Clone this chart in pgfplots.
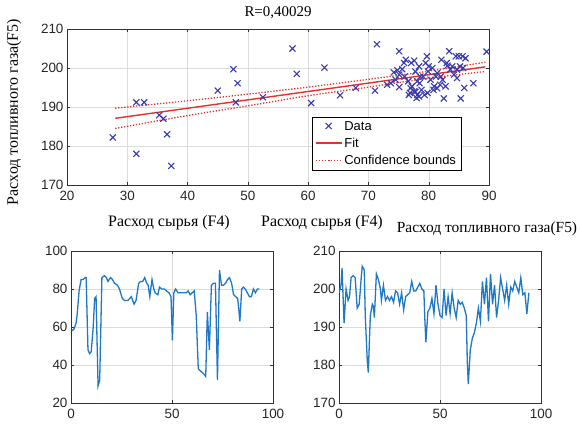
\documentclass[border=0pt]{standalone}
\usepackage{pgfplots}
\pgfplotsset{compat=1.18}
\usepackage{pgfplotstable}
\usepackage{fontspec}
\setmainfont{Liberation Serif}
\newfontfamily\sansf{Liberation Sans}
\definecolor{mblue}{HTML}{3A3AB0}
\definecolor{mred}{HTML}{E5302C}
\definecolor{lblue}{HTML}{1F78C4}

% scatter: F4 vs F5
\pgfplotstableread{
x y
27.6 182.2
31.5 178.0
31.5 191.2
32.8 191.2
35.3 187.9
36.0 187.0
36.6 183.0
37.3 174.9
45.0 194.2
47.6 199.7
48.3 196.1
48.0 191.2
52.5 192.5
57.4 205.0
58.1 198.5
60.5 191.0
62.7 200.1
65.3 193.0
67.9 194.9
71.4 206.1
71.1 194.2
73.1 195.7
73.7 196.1
74.2 198.9
74.5 197.0
74.8 199.4
75.1 204.3
75.1 195.1
75.6 199.7
75.9 201.3
76.2 202.1
76.6 196.6
76.7 193.1
77.0 194.8
77.1 201.3
77.6 194.0
77.8 199.1
78.0 192.3
78.1 193.1
78.4 200.4
78.5 196.1
78.8 194.4
79.1 197.8
79.3 193.1
79.5 201.3
79.7 203.0
79.9 199.1
80.3 197.0
80.6 200.0
80.8 194.4
81.2 197.8
81.4 198.7
81.9 195.7
82.1 202.1
82.3 197.0
82.5 192.2
82.8 195.3
83.0 201.3
83.4 204.3
83.6 199.6
84.2 198.3
84.5 203.0
84.7 197.4
85.0 203.0
85.2 200.4
85.3 192.2
85.6 203.0
85.7 200.0
85.9 194.9
86.1 202.5
87.4 196.1
89.6 204.2
83.9 200.4
78.1 196.6
76.0 197.8
75.1 198.3
80.9 195.3
77.2 195.3
78.6 197.8
77.6 201.9
80.0 200.4
81.4 194.8
79.8 193.6
76.9 193.6
78.4 192.7
83.1 200.6
82.0 197.8
84.7 199.6
77.8 193.9
}\scatterdata

% F4 over time
\pgfplotstableread{
t v
0.5 58
1.5 59
2.5 62
3 66
4 79
5 85
6 85
7 86
7.5 86
8.4 48
9.2 46
10 47
11 60
11.7 75
12.4 76
13.4 29
14.2 32
15.3 86
16.5 87
17.5 86
18.3 84
19.6 86
20.5 85
21.6 83
23 82
24 80
25.4 75
26.5 74
28.2 74
29.9 76
31.2 72
32.2 74
33.5 83
34.5 84
35.5 84
36.5 86
37.5 83
38.2 82
39 76
40.1 85
41 80
41.7 78
43 77
43.8 81
45 80
46.3 80
47.3 79
48.5 78
49.5 76
50.2 53
50.9 78
51.8 80
53 78
55 78
57 78
58 79
59 77
60 78
61 79
62 66
63 38
64 37
65 36
66 35
66.7 34
67.5 68
68.5 48
69.5 82
70.5 83
71.5 83
72.5 32
73.5 90
74.5 82
75.5 82
76.5 83
77.5 85
78.5 86
79.5 83
80.5 77
81.5 76
82.5 75
83 70
83.6 63
84.5 80
85.3 81
86.3 80
87.3 78
88.3 76
89.3 76
90.3 80
91.3 78
92.3 80
93.3 80
}\fourdata

% F5 over time
\pgfplotstableread{
t v
0 199
1 201
1.5 205.5
2.5 191
3.5 200
4.5 197
5.2 198
6 203
7 203.5
8 203
8.5 199
9 195
10 196
11 203
11.5 206
12.5 205
13 193
14 181
14.5 178
15.5 193
16.5 196
17 195.5
17.5 192.5
18.5 204
19.5 202.5
20.5 200
21 197
22 201
23 197
24 198
25 197
26 198
27 196.5
28 199.5
29 199
30 196
31 199
32 194.5
33 198
34 198.5
35 199
36 202
37 199.5
38 199.5
39 200.5
40 201.5
41 200
42 199.5
42.5 192
43 186
44 194
45 195
46 197.5
47 193.5
48 201
49 196
50 193
51 192.5
52 200
53 193
54 198
55 193.5
56 199
57 195
58 192.5
59 197
60 196
61 196.5
62 195
63 193
63.5 181
64 175
65 184
66 187
67 188.5
68 191
69 195
70 191.5
71 202
72 196
73 203
74 191.5
75 204
76 196
77 201
78 192.5
79 197
80 203
81 200
82 197
83 201
84 196
85 200.5
86 199.5
87 202
88 200.5
89 199
90 203
91 198.5
92 199
93 193.5
94 199
}\fivedata

\begin{document}
\begin{tikzpicture}[x=1bp,y=1bp]
\path[use as bounding box] (0,0) rectangle (580,-426);
\pgfplotsset{
  mlab/.style={
    scale only axis, anchor=north west,
    grid=major, major grid style={black!14},
    axis line style={black!80, line width=0.9bp},
    tick align=inside, major tick length=3bp,
    tick style={black!80},
    ticklabel style={font=\sansf\fontsize{13.5}{14}\selectfont, text=black!85},
    xticklabel style={yshift=-3bp},
    /pgf/number format/assume math mode=true,
  }
}

\begin{axis}[mlab,
  at={(67bp,-29bp)}, width=422bp, height=156bp,
  xmin=20, xmax=90, ymin=170, ymax=210,
  xtick={20,30,...,90}, ytick={170,180,...,210},
  legend style={at={(0.58,0.436)}, anchor=north west,
    font=\sansf\fontsize{13}{16}\selectfont, draw=black,
    inner xsep=3bp, inner ysep=2bp, row sep=2.5bp},
  legend cell align=left,
  legend image code/.code={\draw[mark repeat=2,mark phase=2,#1]
    plot coordinates {(0bp,0.4bp) (13bp,0.4bp) (26bp,0.4bp)};},
]
\addplot[only marks, mark=x, mark size=4.3bp, mblue, line width=1.1bp]
  table[x=x, y=y] {\scatterdata};
\addlegendentry{Data}
\addplot[color=mred, solid, line width=1.4bp] coordinates {(28,187.1) (89.4,200.3)};
\addlegendentry{Fit}
\addplot[mred, dash pattern=on 1.3bp off 1.7bp, line width=1.3bp, smooth] coordinates {
  (28,189.7) (40,191.6) (50,193.3) (60,195.1) (70,197.1) (80,199.2) (89.4,201.5)};
\addlegendentry{Confidence bounds}
\addplot[mred, dash pattern=on 1.3bp off 1.7bp, line width=1.3bp, smooth, forget plot] coordinates {
  (28,184.5) (40,187.8) (50,190.3) (60,192.9) (70,195.1) (80,197.4) (89.4,199.1)};
\end{axis}

\begin{axis}[mlab,
  at={(71bp,-251bp)}, width=202bp, height=152bp,
  xmin=0, xmax=100, ymin=20, ymax=100,
  xtick={0,50,100}, ytick={20,40,...,100},
]
\addplot[lblue, line width=1.3bp] table[x=t, y=v] {\fourdata};
\end{axis}

\begin{axis}[mlab,
  at={(339bp,-251bp)}, width=202bp, height=152bp,
  xmin=0, xmax=100, ymin=170, ymax=210,
  xtick={0,50,100}, ytick={170,180,...,210},
]
\addplot[lblue, line width=1.3bp] table[x=t, y=v] {\fivedata};
\end{axis}

\node[font=\fontsize{15}{17}\selectfont] at (278,-13) {R=0,40029};
\node[font=\fontsize{16}{18}\selectfont, rotate=90] at (14,-112) {Расход топливного газа(F5)};
\node[font=\fontsize{16}{18}\selectfont] at (169,-223) {Расход сырья (F4)};
\node[font=\fontsize{16}{18}\selectfont] at (322,-223) {Расход сырья (F4)};
\node[font=\fontsize{15.5}{18}\selectfont] at (487,-229) {Расход топливного газа(F5)};
\end{tikzpicture}
\end{document}
